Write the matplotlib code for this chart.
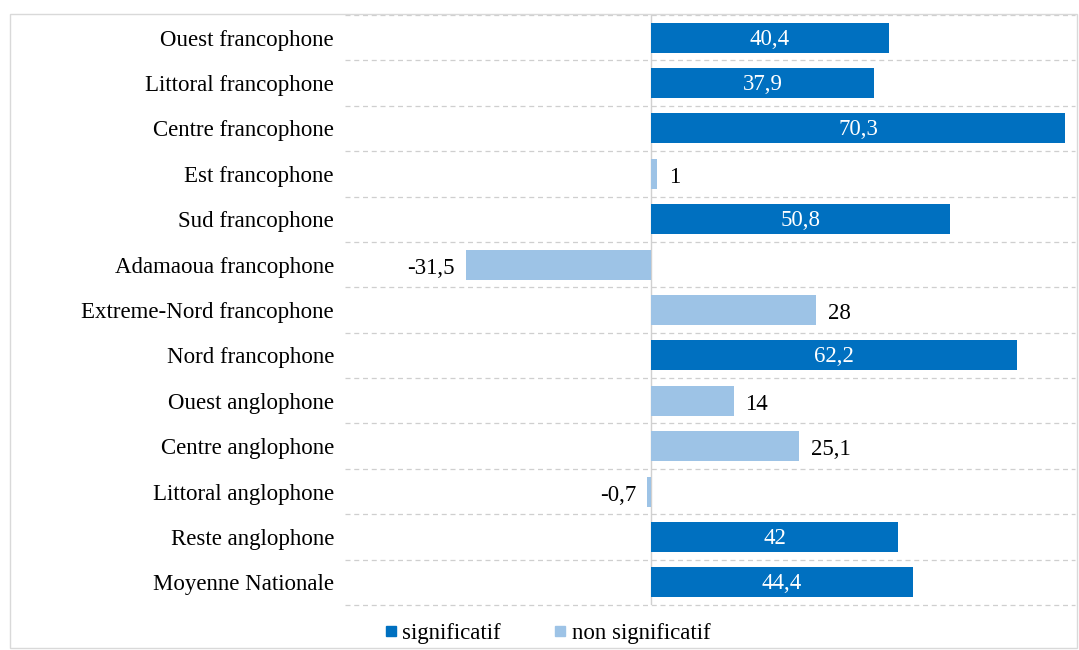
import matplotlib
matplotlib.use("Agg")
import matplotlib.pyplot as plt
from matplotlib.patches import Rectangle
from matplotlib.lines import Line2D

categories = ["Ouest francophone", "Littoral francophone", "Centre francophone",
              "Est francophone", "Sud francophone", "Adamaoua francophone",
              "Extreme-Nord francophone", "Nord francophone", "Ouest anglophone",
              "Centre anglophone", "Littoral anglophone", "Reste anglophone",
              "Moyenne Nationale"]
values = [40.4, 37.9, 70.3, 1, 50.8, -31.5, 28, 62.2, 14, 25.1, -0.7, 42, 44.4]
significant = [True, True, True, False, True, False, False, True, False, False, False, True, True]
legend_labels = ["significatif", "non significatif"]

DARK = "#0070C0"
LIGHT = "#9DC3E6"
FONT = "Liberation Serif"
FS = 16.5

fig = plt.figure(figsize=(10.79, 6.5), dpi=100)
W, H = 1079, 650
ax = fig.add_axes([345 / W, (H - 605) / H, (1075 - 345) / W, (605 - 15) / H])

n = len(categories)
ys = list(range(n))
colors = [DARK if s else LIGHT for s in significant]
ax.barh(ys, values, height=0.66, color=colors, zorder=3)
ax.set_ylim(n - 0.5, -0.5)
ax.set_xlim(-52, 72)

for k in range(n + 1):
    ax.axhline(k - 0.5, color="#cfcfcf", lw=0.9, ls=(0, (4, 3)), zorder=1, clip_on=False)
ax.axvline(0, color="#d0d0d0", lw=1.0, zorder=2)

def fmt(v):
    return ("%g" % v).replace(".", ",")

for y, v, s in zip(ys, values, significant):
    if s:
        ax.text(v / 2, y + 0.03, fmt(v), color="white", ha="center", va="center",
                fontsize=FS, family=FONT, zorder=4)
    elif v >= 0:
        ax.text(v + 2.0, y + 0.08, fmt(v), color="black", ha="left", va="center",
                fontsize=FS, family=FONT, zorder=4)
    else:
        ax.text(v - 1.8, y + 0.08, fmt(v), color="black", ha="right", va="center",
                fontsize=FS, family=FONT, zorder=4)

ax.set_yticks(ys)
ax.set_yticklabels(categories, fontsize=FS, family=FONT)
ax.tick_params(axis="y", length=0, pad=8)
ax.set_xticks([])
for sp in ax.spines.values():
    sp.set_visible(False)

handles = [Line2D([], [], marker="s", ls="none", color=DARK, markersize=7),
           Line2D([], [], marker="s", ls="none", color=LIGHT, markersize=7)]
fig.legend(handles, legend_labels, loc="center", bbox_to_anchor=(546 / W, (H - 633) / H),
           ncol=2, frameon=False, prop={"family": FONT, "size": FS},
           handletextpad=0.1, columnspacing=2.2, handlelength=0.8)

fig.patches.append(Rectangle((10 / W, 2 / H), (1077 - 10) / W, 634 / H,
                             transform=fig.transFigure, fill=False,
                             edgecolor="#d9d9d9", lw=1.0))

fig.savefig("out.png", dpi=100)
